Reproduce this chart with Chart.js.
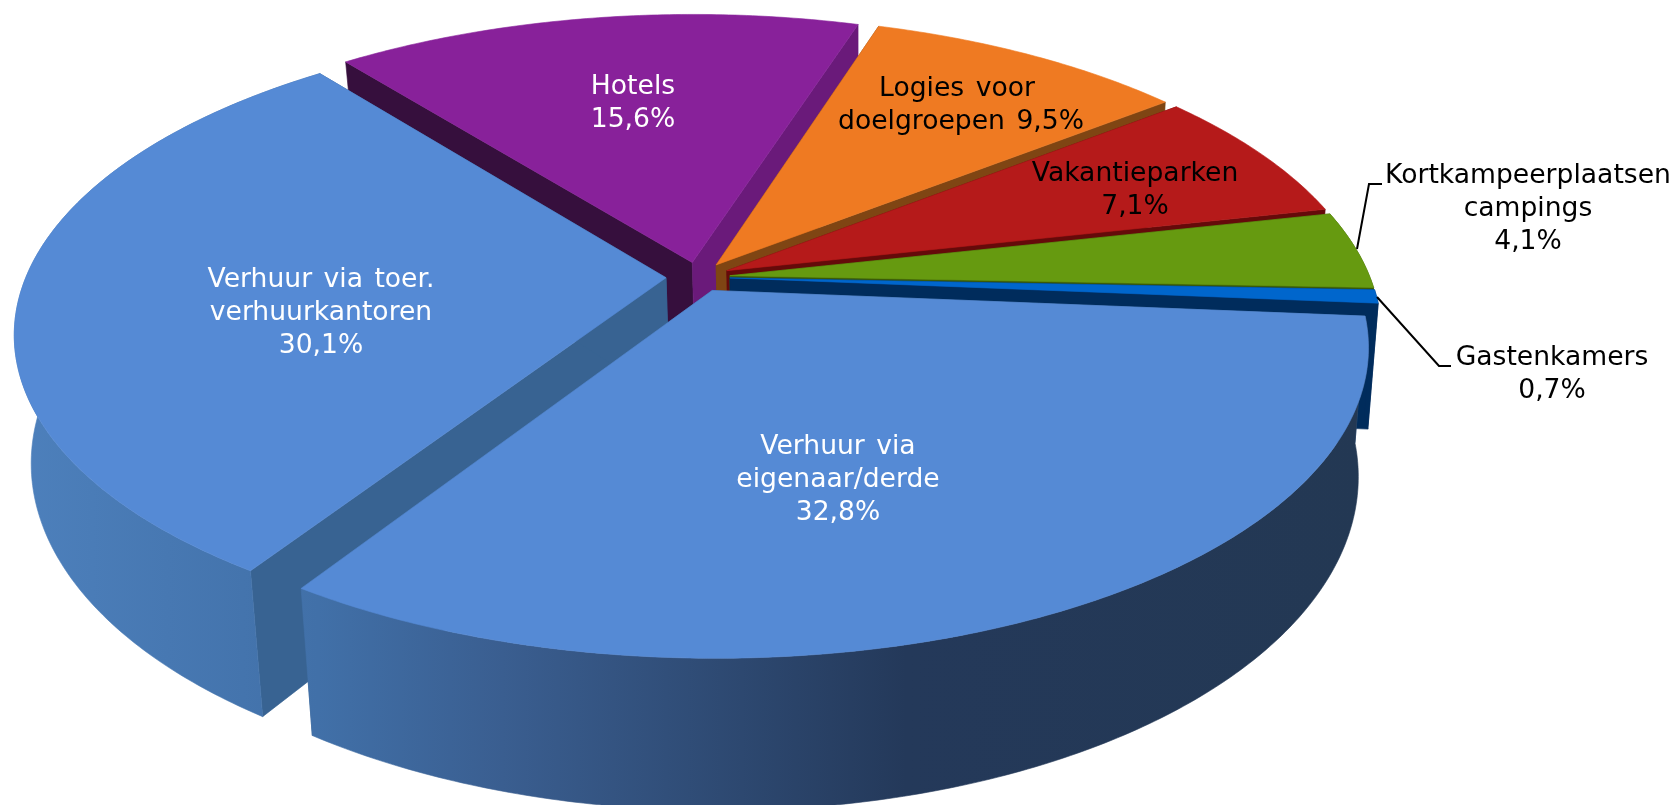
<!DOCTYPE html>
<html>
<head>
<meta charset="utf-8">
<title>Logies</title>
<style>
    html, body { margin: 0; padding: 0; background: #fff; overflow: hidden; }
    canvas { display: block; }
</style>
<script src="https://cdn.jsdelivr.net/npm/chart.js@4"></script>
</head>
<body>
<canvas id="pie" width="1677" height="805"></canvas>
<script>
// Data
const categories = ['Verhuur via eigenaar/derde', 'Verhuur via toer. verhuurkantoren', 'Hotels',
    'Logies voor doelgroepen', 'Vakantieparken', 'Kortkampeerplaatsen campings', 'Gastenkamers'];
const shares = [32.8, 30.1, 15.6, 9.5, 7.1, 4.1, 0.7];

// Colours per slice
const topColors = ['#558AD5', '#558AD5', '#88219A', '#EF7A22', '#B51A1A', '#669A10', '#0066CC'];
const startWalls = ['#386392', '#386392', '#360F3D', '#7F4513', '#650A0A', '#3A5A08', '#002C5C'];
const endWalls = ['#386392', '#386392', '#6A1A7A', '#7F4513', '#650A0A', '#3A5A08', '#002C5C'];

// Text per slice: lines above the percentage
const labelLines = [
    ['Verhuur via', 'eigenaar/derde'],
    ['Verhuur via toer.', 'verhuurkantoren'],
    ['Hotels'],
    ['Logies voor'],
    ['Vakantieparken'],
    ['Kortkampeerplaatsen', 'campings'],
    ['Gastenkamers']
];
const labelColors = ['#fff', '#fff', '#fff', '#000', '#000', '#000', '#000'];

// Look of the 3D view
const view = { cx: 698, cy: 277, rx: 640, ry: 297, persp: 0.178, explode: 0.05, depth: 124, vanishX: 860, narrow: 0.02 };
const fontPx = 26.6;

const pct = v => v.toFixed(1).replace('.', ',') + '%';

// ground plane point to screen, bottom = lower face of the disc
const project = (X, Y, bottom) => {
    const k = 1 / (1 - view.persp * Y);
    let x = view.cx + view.rx * X * k;
    let y = view.cy + view.ry * Y * k;
    if (bottom) {
        x += (view.vanishX - x) * view.narrow;
        y += view.depth * k;
    }
    return [x, y];
};

const fillPoly = (ctx, pts, color) => {
    ctx.beginPath();
    pts.forEach((p, i) => i ? ctx.lineTo(p[0], p[1]) : ctx.moveTo(p[0], p[1]));
    ctx.closePath();
    ctx.fillStyle = color;
    ctx.strokeStyle = color;
    ctx.lineWidth = 0.6;
    ctx.fill();
    ctx.stroke();
};

const pie3d = {
    id: 'pie3d',
    beforeDatasetDraw(chart, args) {
        const ctx = chart.ctx;
        const arcs = chart.getDatasetMeta(args.index).data;

        const sideFill = ctx.createLinearGradient(0, 0, 1677, 0);
        sideFill.addColorStop(0.01, '#4D80BC');
        sideFill.addColorStop(0.19, '#4170A8');
        sideFill.addColorStop(0.30, '#3A5E90');
        sideFill.addColorStop(0.54, '#24395A');
        sideFill.addColorStop(0.82, '#233853');

        const order = arcs.map((a, i) => i).sort((a, b) =>
            Math.sin((arcs[a].startAngle + arcs[a].endAngle) / 2) - Math.sin((arcs[b].startAngle + arcs[b].endAngle) / 2));

        order.forEach(i => {
            const arc = arcs[i];
            const mid = (arc.startAngle + arc.endAngle) / 2;
            const ox = Math.cos(mid) * view.explode;
            const oy = Math.sin(mid) * view.explode;
            const steps = Math.max(2, Math.ceil((arc.endAngle - arc.startAngle) * 90));
            const rimTop = [];
            const rimBottom = [];
            for (let s = 0; s <= steps; s++) {
                const a = arc.startAngle + (arc.endAngle - arc.startAngle) * s / steps;
                rimTop.push(project(ox + Math.cos(a), oy + Math.sin(a), false));
                rimBottom.push(project(ox + Math.cos(a), oy + Math.sin(a), true));
            }
            const tipTop = project(ox, oy, false);
            const tipBottom = project(ox, oy, true);

            // cut faces first, the rim and top cover the ones facing away
            fillPoly(ctx, [tipTop, rimTop[0], rimBottom[0], tipBottom], startWalls[i]);
            fillPoly(ctx, [tipTop, rimTop[steps], rimBottom[steps], tipBottom], endWalls[i]);
            // rims of the slices at the back can't be seen
            if (Math.sin(mid) > -0.2) {
                fillPoly(ctx, rimTop.concat(rimBottom.slice().reverse()), i < 2 ? sideFill : endWalls[i]);
            }
            fillPoly(ctx, [tipTop].concat(rimTop), topColors[i]);
        });
        return false;
    },
    afterDatasetsDraw(chart) {
        const ctx = chart.ctx;
        ctx.save();
        // leader lines
        ctx.strokeStyle = '#000';
        ctx.lineWidth = 2;
        ctx.beginPath();
        ctx.moveTo(1357, 249); ctx.lineTo(1369, 184); ctx.lineTo(1382, 184);
        ctx.moveTo(1377, 297); ctx.lineTo(1439, 366); ctx.lineTo(1451, 366);
        ctx.stroke();

        ctx.font = fontPx + 'px "DejaVu Sans"';
        ctx.wordSpacing = '3px';
        ctx.textAlign = 'center';
        ctx.textBaseline = 'middle';
        const anchors = [[838, 447], [321, 280], [633, 87], [957, 89], [1135, 174], [1528, 176], [1552, 358]];
        labelLines.forEach((lines, i) => {
            ctx.fillStyle = labelColors[i];
            const rows = i === 3 ? [lines[0]] : lines.concat(pct(shares[i]));
            rows.forEach((t, r) => ctx.fillText(t, anchors[i][0], anchors[i][1] + r * 33));
            if (i === 3) ctx.fillText('doelgroepen ' + pct(shares[i]), 961, 122);
        });
        ctx.restore();
    }
};

new Chart(document.getElementById('pie'), {
    type: 'pie',
    data: {
        labels: categories,
        datasets: [{ data: shares, backgroundColor: topColors, borderWidth: 0 }]
    },
    options: {
        responsive: false,
        animation: false,
        rotation: 94.8,
        plugins: { legend: { display: false }, tooltip: { enabled: false } }
    },
    plugins: [pie3d]
});
</script>
</body>
</html>
